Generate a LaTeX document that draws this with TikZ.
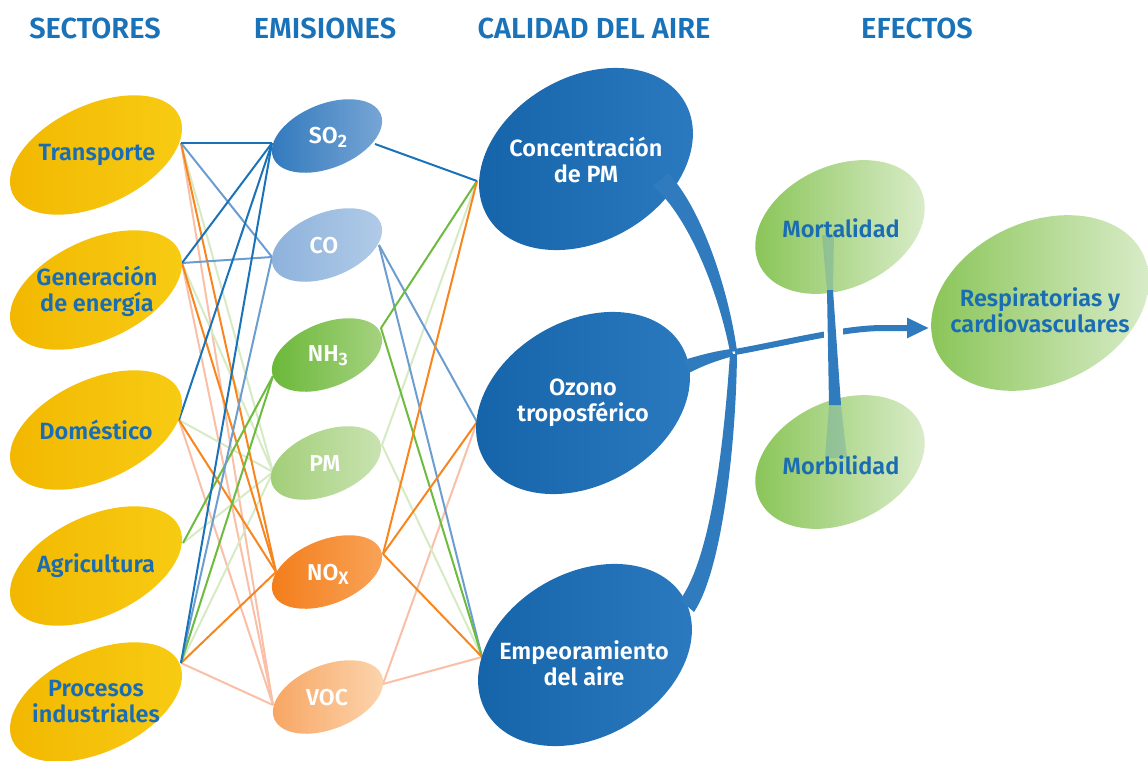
\documentclass[tikz,border=0pt]{standalone}
\usepackage{fontspec}
\setmainfont{Fira Sans}
\IfFontExistsTF{FiraSans-SemiBold.otf}{\newfontfamily\semib{FiraSans-SemiBold.otf}}{%
  \IfFontExistsTF{Fira Sans SemiBold}{\newfontfamily\semib{Fira Sans SemiBold}}{\newcommand\semib{\bfseries}}}
\usetikzlibrary{shapes.geometric,arrows.meta}
\definecolor{hdr}{HTML}{1A72B8}
\definecolor{txtblue}{HTML}{1A6DB3}
\definecolor{lso}{HTML}{1A72B8}
\definecolor{lco}{HTML}{6C9DD0}
\definecolor{lnh}{HTML}{6DBB3F}
\definecolor{lpm}{HTML}{D6EAC4}
\definecolor{lno}{HTML}{F7861E}
\definecolor{lvo}{HTML}{F9BFA7}
\definecolor{band}{HTML}{2F7BBE}
\definecolor{yelA}{HTML}{F2B700}
\definecolor{yelB}{HTML}{F8CC14}
\definecolor{aqA}{HTML}{1463A9}
\definecolor{aqB}{HTML}{2C7BC0}
\definecolor{efA}{HTML}{86C352}
\definecolor{efB}{HTML}{DDEECF}
\definecolor{e1a}{HTML}{2F78BC}\definecolor{e1b}{HTML}{7AA7D6}
\definecolor{e2a}{HTML}{8CB1DB}\definecolor{e2b}{HTML}{B2CCE8}
\definecolor{e3a}{HTML}{68B736}\definecolor{e3b}{HTML}{A8D383}
\definecolor{e4a}{HTML}{A0CD76}\definecolor{e4b}{HTML}{CBE4B3}
\definecolor{e5a}{HTML}{F37C18}\definecolor{e5b}{HTML}{F9A45A}
\definecolor{e6a}{HTML}{F7A460}\definecolor{e6b}{HTML}{FCD6B0}
\newcommand\lowsub[1]{\raisebox{-0.35ex}{\fontsize{18}{18}\selectfont #1}}
\begin{document}
\begin{tikzpicture}[x=1pt,y=-1pt,
  ell/.style={ellipse, draw=none, inner sep=0pt},
  yel/.style={ell, minimum width=184pt, minimum height=100pt, rotate=25, left color=yelA, right color=yelB},
  emis/.style={ell, minimum width=116pt, minimum height=64pt, rotate=22},
  aq/.style={ell, minimum width=228pt, minimum height=164pt, rotate=30, left color=aqA, right color=aqB},
  eff/.style={ell, rotate=25, left color=efA, right color=efB},
  hd/.style={font=\semib\fontsize{29}{31}\selectfont, text=hdr},
  lab/.style={font=\semib\fontsize{23.5}{26}\selectfont, text=txtblue, align=center},
  wlab/.style={font=\semib\fontsize{23.5}{25.5}\selectfont, text=white, align=center},
  elab/.style={font=\semib\fontsize{23}{24}\selectfont, text=white},
  conn/.style={line width=2pt}
]
\useasboundingbox (0,0) rectangle (1148,760);

% headers
\node[hd] (h1) at (95,28) {SECTORES};
\node[hd] (h2) at (325,28) {EMISIONES};
\node[hd] (h3) at (594,28) {CALIDAD DEL AIRE};
\node[hd] (h4) at (917,28) {EFECTOS};

% anchor coordinates
\coordinate (trR) at (181,143);
\coordinate (geR) at (182,263);
\coordinate (doR) at (179,420);
\coordinate (agR) at (183,543);
\coordinate (prR) at (181,663);
\coordinate (soL) at (272,143);
\coordinate (coL) at (272,257);
\coordinate (nhL) at (273,376);
\coordinate (pmL) at (273,472);
\coordinate (noL) at (276,572);
\coordinate (voL) at (273,705);
\coordinate (soR) at (375,144);
\coordinate (coR) at (379,245);
\coordinate (nhR) at (381,328);
\coordinate (pmR) at (382,445);
\coordinate (noR) at (383,554);
\coordinate (voR) at (383,684);
\coordinate (cpL) at (477,181);
\coordinate (ozL) at (477,422);
\coordinate (emL) at (482,657);

% connectors sectors -> emissions
\foreach \s in {trR,geR,doR,prR} \draw[conn,lvo] (\s) -- (voL);
\foreach \s in {trR,geR,doR,agR,prR} \draw[conn,lpm] (\s) -- (pmL);
\foreach \s in {trR,geR,doR,prR} \draw[conn,lno] (\s) -- (noL);
\foreach \s in {agR,prR} \draw[conn,lnh] (\s) -- (nhL);
\foreach \s in {trR,geR,prR} \draw[conn,lco] (\s) -- (coL);
\foreach \s in {trR,geR,doR,prR} \draw[conn,lso] (\s) -- (soL);

% connectors emissions -> air quality
\draw[conn,lvo] (voR) -- (ozL);
\draw[conn,lvo] (voR) -- (emL);
\draw[conn,lpm] (pmR) -- (cpL);
\draw[conn,lpm] (pmR) -- (emL);
\draw[conn,lco] (coR) -- (ozL);
\draw[conn,lco] (coR) -- (emL);
\draw[conn,lnh] (nhR) -- (cpL);
\draw[conn,lnh] (nhR) -- (emL);
\draw[conn,lno] (noR) -- (cpL);
\draw[conn,lno] (noR) -- (ozL);
\draw[conn,lno] (noR) -- (emL);
\draw[conn,lso] (soR) -- (cpL);

% sector ellipses
\node[yel] (tr) at (96,155) {};
\node[yel] (ge) at (96,290) {};
\node[yel] (do) at (96,430) {};
\node[yel] (ag) at (96,566) {};
\node[yel] (pr) at (96,702) {};
\node[lab] (trT) at (97,155) {Transporte};
\node[lab] (geT) at (97,291) {Generación\\de energía};
\node[lab] (doT) at (96,430) {Doméstico};
\node[lab] (agT) at (96,566) {Agricultura};
\node[lab] (prT) at (96,702) {Procesos\\industriales};

% emission ellipses
\node[emis, left color=e1a, right color=e1b] (so) at (327,136) {};
\node[emis, left color=e2a, right color=e2b] (co) at (327,245) {};
\node[emis, left color=e3a, right color=e3b] (nh) at (327,355) {};
\node[emis, left color=e4a, right color=e4b] (pm) at (326,463) {};
\node[emis, left color=e5a, right color=e5b] (no) at (327,572) {};
\node[emis, left color=e6a, right color=e6b] (vo) at (328,697) {};
\node[elab] (soT) at (328,137) {SO\lowsub{2}};
\node[elab] (coT) at (324,246) {CO};
\node[elab] (nhT) at (328,356) {NH\lowsub{3}};
\node[elab] (pmT) at (325,464) {PM};
\node[elab] (noT) at (328,574) {NO\lowsub{X}};
\node[elab] (voT) at (327,698) {VOC};

% air quality ellipses
\node[aq] (cp) at (586,159) {};
\node[aq] (oz) at (583,403) {};
\node[aq] (em) at (585,655) {};
\node[wlab] (cpT) at (586,160) {Concentración\\de PM};
\node[wlab] (ozT) at (583,403) {Ozono\\troposférico};
\node[wlab] (emT) at (584,663) {Empeoramiento\\del aire};

% effect ellipses
\node[eff, minimum width=178pt, minimum height=122pt] (mo) at (840,227) {};
\node[eff, minimum width=178pt, minimum height=122pt] (mb) at (840,462) {};
\node[eff, minimum width=228pt, minimum height=162pt] (re) at (1040,303) {};
\node[lab] (moT) at (841,228) {Mortalidad};
\node[lab] (mbT) at (841,465) {Morbilidad};
\node[lab] (reT) at (1040,310) {Respiratorias y\\cardiovasculares};

% thick bands into junction
\coordinate (jn) at (735,352);
\coordinate (reIn) at (929,328);
\fill[band] (653,186) .. controls (688,216) and (718,290) .. (730,352)
  -- (737,351) .. controls (728,286) and (700,206) .. (668,173) -- cycle;
\fill[band] (684,360) .. controls (700,355) and (716,351) .. (731,349)
  -- (734,356) .. controls (718,360) and (702,366) .. (689,373) -- cycle;
\fill[band] (680,600) .. controls (712,555) and (724,440) .. (730,354)
  -- (737,354) .. controls (736,445) and (722,570) .. (694,612) -- cycle;

% vertical bar between Mortalidad and Morbilidad (faded parts)
\fill[band, opacity=0.22] (822,235) -- (834,235) -- (833,290) -- (827,290) -- cycle;
\fill[band, opacity=0.22] (829,405) -- (841,405) -- (847,458) -- (825,458) -- cycle;

% arrow to Respiratorias
\draw[band, line width=6pt, -{Triangle[length=22pt,width=19pt]}]
  (jn) .. controls (790,342) and (840,329) .. (880,328) -- (reIn);
\fill[white] (824,322) rectangle (843,346);
\fill[band] (827,290) -- (833,290) -- (841,405) -- (829,405) -- cycle;
\end{tikzpicture}
\end{document}
